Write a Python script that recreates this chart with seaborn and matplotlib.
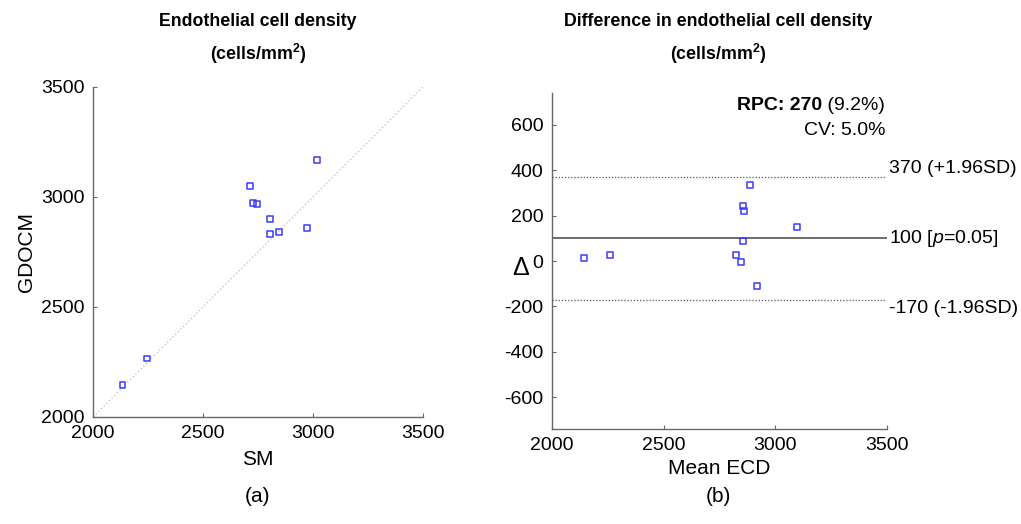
import matplotlib
matplotlib.use("Agg")
import matplotlib.pyplot as plt
import pandas as pd
import seaborn as sns

# panel (a): ECD by the two methods (cells/mm^2)
sm = [2134, 2244, 2712, 2727, 2745, 2806, 2806, 2846, 2973, 3018]
gdocm = [2146, 2266, 3050, 2973, 2968, 2899, 2830, 2842, 2861, 3169]

# panel (b): Bland-Altman
mean_ecd = [2142, 2258, 2888, 2855, 2860, 2855, 2824, 2848, 2919, 3097]
delta = [15, 27, 335, 243, 222, 90, 25, -6, -110, 151]
bias = 100
loa_upper = 370
loa_lower = -170

ecd_ticks = [2000, 2500, 3000, 3500]
delta_ticks = [-600, -400, -200, 0, 200, 400, 600]

sns.set_theme(style="white")
plt.rcParams["font.family"] = ["Liberation Sans", "DejaVu Sans"]
plt.rcParams["mathtext.fontset"] = "custom"
plt.rcParams["mathtext.rm"] = "Liberation Sans"
plt.rcParams["mathtext.it"] = "Liberation Sans:italic"
plt.rcParams["mathtext.bf"] = "Liberation Sans:bold"
plt.rcParams["axes.unicode_minus"] = False
plt.rcParams["text.color"] = "black"
plt.rcParams["axes.labelcolor"] = "black"

marker_color = "#3a3aff"
axis_color = "#666666"

fig = plt.figure(figsize=(10.21, 5.24), dpi=100)
ax_a = fig.add_axes([0.0911, 0.2042, 0.3232, 0.6298])
ax_b = fig.add_axes([0.5406, 0.1813, 0.3281, 0.6412])

df_a = pd.DataFrame({"SM": sm, "GDOCM": gdocm})
df_b = pd.DataFrame({"mean": mean_ecd, "delta": delta})


def style_axes(ax):
    for side in ["top", "right"]:
        ax.spines[side].set_visible(False)
    for side in ["left", "bottom"]:
        ax.spines[side].set_color(axis_color)
        ax.spines[side].set_linewidth(1.0)
    ax.tick_params(direction="in", length=3, width=0.8, color=axis_color,
                   labelsize=14, labelcolor="black", pad=6,
                   left=True, bottom=True)


# ---- (a)
ax_a.plot([2000, 3500], [2000, 3500], linestyle=(0, (1, 2)), color="#bbbbbb", lw=0.9, zorder=1)
sns.scatterplot(data=df_a, x="SM", y="GDOCM", ax=ax_a, marker="s", s=18,
                facecolor="none", edgecolor=marker_color, linewidth=1.1, zorder=3)
ax_a.set_xlim(2000, 3500)
ax_a.set_ylim(2000, 3500)
ax_a.set_xticks(ecd_ticks)
ax_a.set_yticks(ecd_ticks)
style_axes(ax_a)
ax_a.set_xlabel("SM", fontsize=15)
ax_a.set_ylabel("GDOCM", fontsize=15)
ax_a.xaxis.set_label_coords(0.5, -0.1)
ax_a.yaxis.set_label_coords(-0.173, 0.5)

# ---- (b)
ax_b.axhline(loa_upper, linestyle=(0, (1, 1.5)), color="#555555", lw=0.9, zorder=1)
ax_b.axhline(loa_lower, linestyle=(0, (1, 1.5)), color="#555555", lw=0.9, zorder=1)
ax_b.axhline(bias, linestyle="-", color="#555555", lw=1.2, zorder=1)
sns.scatterplot(data=df_b, x="mean", y="delta", ax=ax_b, marker="s", s=18,
                facecolor="none", edgecolor=marker_color, linewidth=1.1, zorder=3)
ax_b.set_xlim(2000, 3500)
ax_b.set_ylim(-740, 740)
ax_b.set_xticks(ecd_ticks)
ax_b.set_yticks(delta_ticks)
style_axes(ax_b)
ax_b.set_xlabel("Mean ECD", fontsize=15)
ax_b.set_ylabel("Δ", fontsize=18, rotation=0, ha="center", va="center")
ax_b.xaxis.set_label_coords(0.5, -0.088)
ax_b.yaxis.set_label_coords(-0.095, 0.48)

tr = ax_b.get_yaxis_transform()
ax_b.text(1.005, loa_upper, f"{loa_upper} (+1.96SD)", transform=tr, fontsize=14,
          ha="left", va="bottom")
ax_b.text(1.005, bias, f"{bias} [$\\it{{p}}$=0.05]", transform=tr, fontsize=14,
          ha="left", va="center")
ax_b.text(1.005, loa_lower, f"{loa_lower} (-1.96SD)", transform=tr, fontsize=14,
          ha="left", va="top")

# RPC line: bold part followed by regular part
pct = ax_b.text(0.995, 0.962, " (9.2%)", transform=ax_b.transAxes,
                fontsize=14, ha="right", va="center")
fig.canvas.draw()
bb = pct.get_window_extent().transformed(ax_b.transAxes.inverted())
ax_b.text(bb.x0, 0.962, "RPC: 270", transform=ax_b.transAxes, fontsize=14,
          fontweight="bold", ha="right", va="center")
ax_b.text(0.995, 0.888, "CV: 5.0%", transform=ax_b.transAxes,
          fontsize=14, ha="right", va="center")

# titles and panel labels
for xc, line1 in [(258 / 1021, "Endothelial cell density"),
                  (718 / 1021, "Difference in endothelial cell density")]:
    fig.text(xc, 1 - 21 / 524, line1, fontsize=12.8, fontweight="bold",
             ha="center", va="center")
    fig.text(xc, 1 - 54 / 524, r"(cells/mm$^{\mathbf{2}}$)", fontsize=12.8,
             fontweight="bold", ha="center", va="center")

fig.text(258 / 1021, 1 - 497 / 524, "(a)", fontsize=15, ha="center", va="center")
fig.text(718 / 1021, 1 - 497 / 524, "(b)", fontsize=15, ha="center", va="center")

fig.savefig("out.png", dpi=100)
plt.close(fig)
